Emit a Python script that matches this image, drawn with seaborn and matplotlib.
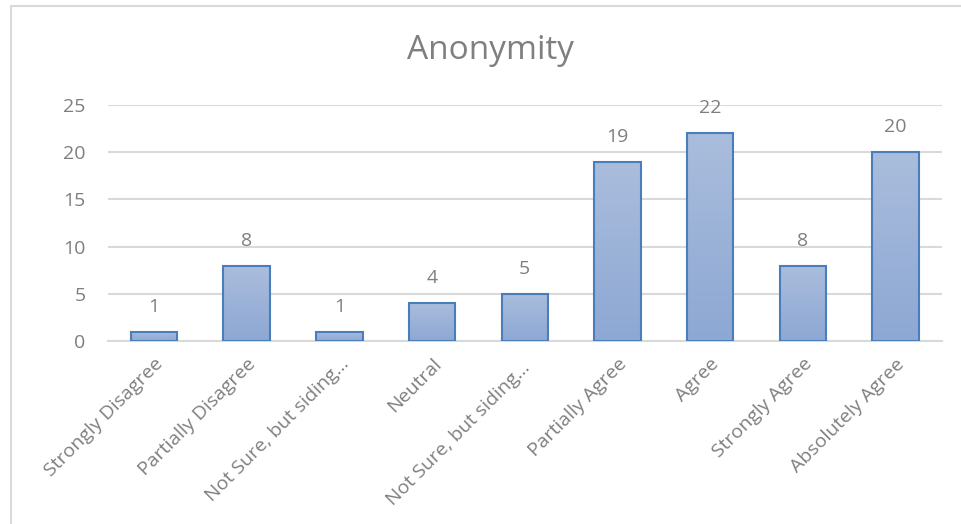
import numpy as np
import pandas as pd
import matplotlib
matplotlib.use("Agg")
import matplotlib.pyplot as plt
from matplotlib.lines import Line2D
import seaborn as sns

categories = [
    "Strongly Disagree",
    "Partially Disagree",
    "Not Sure, but siding\u2026",
    "Neutral",
    "Not Sure, but siding\u2026 ",
    "Partially Agree",
    "Agree",
    "Strongly Agree",
    "Absolutely Agree",
]
counts = [1, 8, 1, 4, 5, 19, 22, 8, 20]
y_ticks = [0, 5, 10, 15, 20, 25]
title = "Anonymity"

sns.set_theme(style="white")
plt.rcParams["font.family"] = ["Open Sans", "DejaVu Sans"]

df = pd.DataFrame({"category": categories, "count": counts})

fig = plt.figure(figsize=(9.61, 5.24), dpi=100)
ax = fig.add_axes([0.112, 0.349, 0.868, 0.451])

sns.barplot(data=df, x="category", y="count", ax=ax, width=0.5,
            color="#9DB3D8", edgecolor="#4A7EBB", linewidth=1.5,
            saturation=1, zorder=2)

# vertical gradient fill inside each bar
grad = np.linspace(0, 1, 256).reshape(-1, 1)
cmap = matplotlib.colors.LinearSegmentedColormap.from_list(
    "bar", ["#8DA8D4", "#AABDDC"])
for patch in ax.patches:
    x0, y0 = patch.get_x(), patch.get_y()
    w, h = patch.get_width(), patch.get_height()
    im = ax.imshow(grad, cmap=cmap, origin="lower", aspect="auto",
                   extent=[x0, x0 + w, y0, y0 + h], zorder=2.5)
    im.set_clip_path(patch)
    patch.set_facecolor("none")
    patch.set_zorder(3)

for i, v in enumerate(counts):
    ax.annotate(str(v), (i, v), xytext=(0, 18), textcoords="offset points",
                ha="center", va="center", fontsize=14, color="#7F7F7F")

ax.set_xlim(-0.5, len(categories) - 0.5)
ax.set_ylim(0, 25)
ax.set_yticks(y_ticks)
ax.yaxis.grid(True, color="#D9D9D9", linewidth=1.5, zorder=0)
ax.set_axisbelow(True)
for s in ["top", "right", "left"]:
    ax.spines[s].set_visible(False)
ax.spines["bottom"].set_color("#D9D9D9")
ax.spines["bottom"].set_linewidth(1.5)
ax.tick_params(axis="both", length=0, labelsize=14, colors="#7F7F7F")
ax.tick_params(axis="y", pad=16)
ax.set_xticks(range(len(categories)))
ax.set_xticklabels(categories, rotation=45, ha="right",
                   rotation_mode="anchor")
ax.tick_params(axis="x", pad=10)
ax.set_xlabel("")
ax.set_ylabel("")

fig.text(0.51, 0.903, title, ha="center", va="center",
         fontsize=24, color="#7F7F7F")

# chart-area frame (top and left edges)
fig.add_artist(Line2D([0.0115, 1.0], [0.989, 0.989], transform=fig.transFigure,
                      color="#D9D9D9", linewidth=1.5))
fig.add_artist(Line2D([0.0115, 0.0115], [0.0, 0.989], transform=fig.transFigure,
                      color="#D9D9D9", linewidth=1.5))

fig.savefig("out.png", dpi=100, facecolor="white")
